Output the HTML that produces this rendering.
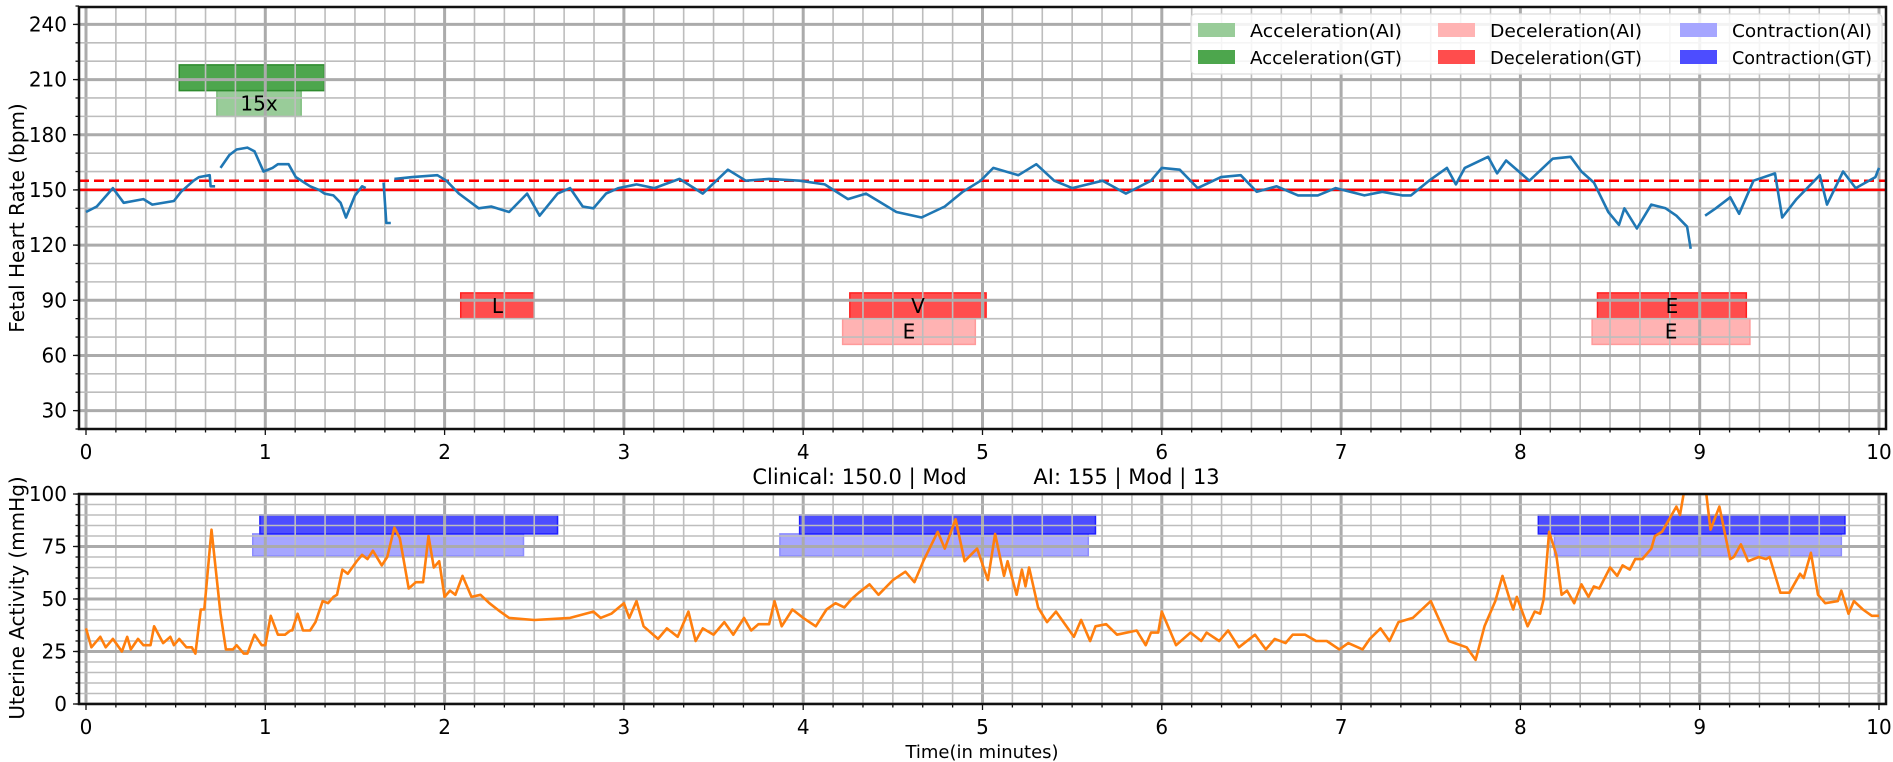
<!DOCTYPE html>
<html><head><meta charset="utf-8"><style>
html,body{margin:0;padding:0;background:#fff;}
svg{display:block;font-family:"DejaVu Sans","Liberation Sans",sans-serif;}
</style></head><body>
<svg id="chart" width="1893" height="762" viewBox="0 0 1893 762" xmlns="http://www.w3.org/2000/svg">
<defs>
<clipPath id="clipTop"><rect x="79" y="7" width="1807" height="422"/></clipPath>
<clipPath id="clipBot"><rect x="79" y="494" width="1807" height="210"/></clipPath>
</defs>
<text x="0" y="0" transform="translate(24,218) rotate(-90)" text-anchor="middle" font-size="20">Fetal Heart Rate (bpm)</text>
<text x="0" y="0" transform="translate(24,598) rotate(-90)" text-anchor="middle" font-size="20">Uterine Activity (mmHg)</text>
<text x="986" y="484" text-anchor="middle" font-size="21" xml:space="preserve">Clinical: 150.0 | Mod          AI: 155 | Mod | 13</text>
<text x="982" y="758" text-anchor="middle" font-size="18">Time(in minutes)</text>
</svg>
<script>
// ---- data ----
const fhrTimes = [0,.06,.15,.21,.32,.37,.49,.53,.6,.63,.69,.695,.72,.73,.75,.8,.84,.9,.94,.99,1.04,1.07,1.13,1.17,1.25,1.3,1.33,1.38,1.42,1.45,1.5,1.54,1.56,1.6,1.66,1.675,1.7,1.71,1.72,1.82,1.96,2.01,2.08,2.19,2.26,2.36,2.46,2.53,2.63,2.7,2.77,2.83,2.9,2.97,3.07,3.17,3.31,3.44,3.58,3.68,3.81,3.98,4.12,4.25,4.35,4.52,4.66,4.79,4.89,4.99,5.06,5.2,5.3,5.4,5.5,5.67,5.8,5.94,6.0,6.1,6.2,6.33,6.44,6.53,6.64,6.76,6.87,6.97,7.13,7.23,7.34,7.39,7.49,7.59,7.64,7.69,7.82,7.87,7.92,8.05,8.18,8.28,8.34,8.41,8.49,8.55,8.58,8.65,8.73,8.81,8.87,8.93,8.95,8.99,9.03,9.09,9.17,9.22,9.3,9.42,9.46,9.54,9.67,9.71,9.8,9.87,9.98,10.0];
const fhrValues = [138,141,151,143,145,142,144,149,155,157,158,152,152,null,162,169,172,173,171,160,162,164,164,157,152,150,148,147,143,135,147,152,151,null,154,132,132,null,156,157,158,155,148,140,141,138,148,136,148,151,141,140,148,151,153,151,156,148,161,155,156,155,153,145,148,138,135,141,149,155,162,158,164,155,151,155,148,155,162,161,151,157,158,149,152,147,147,151,147,149,147,147,155,162,153,162,168,159,166,155,167,168,160,154,138,131,140,129,142,140,136,130,118,null,136,140,146,137,155,159,135,145,158,142,160,151,157,162];
const uaTimes = [0,.03,.08,.11,.15,.2,.23,.25,.29,.32,.36,.38,.43,.47,.49,.52,.56,.59,.61,.64,.66,.7,.75,.78,.82,.84,.88,.9,.94,.98,1.0,1.03,1.07,1.11,1.14,1.15,1.18,1.21,1.25,1.28,1.32,1.35,1.38,1.4,1.43,1.46,1.51,1.54,1.57,1.6,1.65,1.68,1.72,1.75,1.8,1.84,1.88,1.91,1.94,1.97,2.0,2.03,2.06,2.1,2.15,2.2,2.25,2.31,2.36,2.5,2.7,2.83,2.87,2.93,3.0,3.03,3.07,3.11,3.19,3.24,3.3,3.36,3.4,3.44,3.5,3.56,3.61,3.67,3.71,3.75,3.81,3.84,3.88,3.94,4.0,4.07,4.13,4.18,4.23,4.27,4.31,4.37,4.42,4.5,4.57,4.62,4.67,4.75,4.79,4.85,4.9,4.97,5.03,5.07,5.12,5.14,5.19,5.22,5.24,5.26,5.31,5.36,5.41,5.51,5.55,5.6,5.63,5.69,5.75,5.86,5.91,5.94,5.98,6.0,6.08,6.16,6.22,6.25,6.32,6.37,6.43,6.52,6.58,6.63,6.69,6.73,6.8,6.86,6.92,6.99,7.04,7.12,7.16,7.22,7.27,7.32,7.4,7.5,7.6,7.7,7.75,7.8,7.86,7.9,7.94,7.96,7.98,8.01,8.04,8.08,8.11,8.13,8.16,8.2,8.23,8.26,8.3,8.34,8.38,8.41,8.44,8.5,8.54,8.57,8.61,8.64,8.68,8.73,8.75,8.79,8.83,8.87,8.89,8.91,8.92,9.03,9.06,9.11,9.17,9.19,9.23,9.27,9.33,9.37,9.39,9.45,9.5,9.56,9.58,9.62,9.66,9.7,9.77,9.79,9.83,9.86,9.91,9.96,10.0];
const uaValues = [36,27,32,27,31,25,32,26,31,28,28,37,29,32,28,31,27,27,24,45,45,83,43,26,26,28,24,24,33,28,28,42,33,33,35,35,43,35,35,39,49,48,51,52,64,62,68,71,69,73,66,70,84,79,55,58,58,80,65,68,51,54,52,61,51,52,48,44,41,40,41,44,41,43,48,41,49,37,31,36,32,44,30,36,33,39,33,41,35,38,38,49,37,45,41,37,45,48,46,50,53,57,52,59,63,58,68,82,74,88,68,74,59,81,61,68,52,64,56,65,46,39,44,32,40,30,37,38,33,35,28,34,34,44,28,34,30,34,30,35,27,33,26,31,29,33,33,30,30,26,29,26,31,36,30,39,41,49,30,27,21,37,49,61,50,45,51,44,37,44,43,50,82,71,52,54,48,57,51,56,55,65,61,66,64,69,69,74,80,82,88,94,90,100,105,105,83,94,69,70,76,68,70,69,70,53,53,62,60,72,52,48,49,54,43,49,45,42,42];
const baselineClinical = 150;
const baselineAI = 155;
// event bars: [start, end, low, high, label]
const accelGT = [[0.52,1.33,204,218,""]];
const accelAI = [[0.73,1.20,190,204,"15x"]];
const decelGT = [[2.09,2.50,80,94,"L"],[4.26,5.02,80,94,"V"],[8.43,9.26,80,94,"E"]];
const decelAI = [[4.22,4.96,66,80,"E"],[8.40,9.28,66,80,"E"]];
const contrGT = [[0.97,2.63,81,90],[3.98,5.63,81,90],[8.10,9.81,81,90]];
const contrAI = [[0.93,2.44,70.5,81],[3.87,5.59,70.5,81],[8.19,9.79,70.5,81]];
const xTicks = [0,1,2,3,4,5,6,7,8,9,10];
const fhrTicks = [30,60,90,120,150,180,210,240];
const uaTicks = [0,25,50,75,100];

// ---- scales ----
const L=79,R=1886;
const xS=t=>86+t*179.3;
const yT=v=>429-(v-20)*1.839;
const yB=v=>704-v*2.1;
const NS="http://www.w3.org/2000/svg";
const svg=document.getElementById('chart');
function el(tag,attrs,parent){const e=document.createElementNS(NS,tag);for(const k in attrs)e.setAttribute(k,attrs[k]);(parent||svg).appendChild(e);return e;}

const gTop=el('g',{});


const gBot=el('g',{});



function drawBars(g,arr,yS,fill,stroke,name){
  arr.forEach(b=>{
    const r=el('rect',{x:xS(b[0]),y:yS(b[3]),width:xS(b[1])-xS(b[0]),height:yS(b[2])-yS(b[3]),fill:fill,stroke:stroke,'stroke-width':1.5},g);
    
    
  });
}
function drawBarLabels(g,arr,yS){
  arr.forEach(b=>{ if(!b[4])return;
    const t=el('text',{x:(xS(b[0])+xS(b[1]))/2,y:(yS(b[2])+yS(b[3]))/2+7,'text-anchor':'middle','font-size':20},g);
    t.textContent=b[4];
    
    
  });
}
function drawGrid(g,top,bot,yS,minorStep,majorStep,vmin,vmax){
  for(let i=0;i<=60;i++){const t=i/6;const maj=i%6===0;
    el('line',{x1:xS(t),x2:xS(t),y1:top,y2:bot,stroke:maj?'#ababab':'#bdbdbd','stroke-width':maj?3:1.6},g);}
  for(let v=vmin;v<=vmax+0.01;v+=minorStep){const maj=((v)%majorStep)===0;
    el('line',{x1:L,x2:R,y1:yS(v),y2:yS(v),stroke:maj?'#ababab':'#bdbdbd','stroke-width':maj?3:1.6},g);}
}
function drawLine(g,T,V,yS,color,name){
  let d='',pen=false;
  for(let i=0;i<T.length;i++){const v=V[i];
    if(v===null){pen=false;continue;}
    d+=(pen?'L':'M')+xS(T[i]).toFixed(1)+','+yS(v).toFixed(1);pen=true;}
  const p=el('path',{d:d,fill:'none',stroke:color,'stroke-width':2.6,'stroke-linejoin':'round'},g);
  
  
}
function drawAxes(top,bot,yS,ticks,minorStep,vmin,vmax,name){
  const f=el('rect',{x:L,y:top,width:R-L,height:bot-top,fill:'none',stroke:'#111','stroke-width':2.5});
  
  
  for(let i=0;i<=60;i++){const t=i/6;const maj=i%6===0;
    el('line',{x1:xS(t),x2:xS(t),y1:bot,y2:bot+(maj?6:3.5),stroke:'#111','stroke-width':1.3});}
  xTicks.forEach(t=>{const tx=el('text',{x:xS(t),y:bot+30,'text-anchor':'middle','font-size':20});tx.textContent=t;
    
    });
  for(let v=vmin;v<=vmax+0.01;v+=minorStep){el('line',{x1:L-3.5,x2:L,y1:yS(v),y2:yS(v),stroke:'#111','stroke-width':1.3});}
  ticks.forEach(v=>{el('line',{x1:L-6,x2:L,y1:yS(v),y2:yS(v),stroke:'#111','stroke-width':1.3});
    const tx=el('text',{x:L-12,y:yS(v)+7,'text-anchor':'end','font-size':20});tx.textContent=v;
    
    });
}

// top panel
const cTop=el('g',{'clip-path':'url(#clipTop)'},gTop);
drawBars(cTop,accelAI,yT,'#99cc99','#7fbf7f','acceleration-ai-bar');
drawBars(cTop,accelGT,yT,'#4da64d','#2e8b2e','acceleration-gt-bar');
drawBars(cTop,decelAI,yT,'#ffb3b3','#ff9a9a','deceleration-ai-bar');
drawBars(cTop,decelGT,yT,'#ff4d4d','#ff2020','deceleration-gt-bar');
drawGrid(cTop,7,429,yT,10,30,20,250);
drawBarLabels(cTop,accelAI,yT);
drawBarLabels(cTop,decelGT,yT);
drawBarLabels(cTop,decelAI,yT);
const bl1=el('line',{x1:L,x2:R,y1:yT(baselineClinical),y2:yT(baselineClinical),stroke:'#ff0000','stroke-width':2.5},cTop);


const bl2=el('line',{x1:L,x2:R,y1:yT(baselineAI),y2:yT(baselineAI),stroke:'#ff0000','stroke-width':2.5,'stroke-dasharray':'10,5'},cTop);


drawLine(cTop,fhrTimes,fhrValues,yT,'#1f77b4','fhr-line');
drawAxes(7,429,yT,fhrTicks,10,20,250,'fhr');

// bottom panel
const cBot=el('g',{'clip-path':'url(#clipBot)'},gBot);
drawBars(cBot,contrAI,yB,'#a6a6ff','#8c8cff','contraction-ai-bar');
drawBars(cBot,contrGT,yB,'#4d4dff','#2020ff','contraction-gt-bar');
drawGrid(cBot,494,704,yB,5,25,0,100);
drawLine(cBot,uaTimes,uaValues,yB,'#ff7f0e','ua-line');
drawAxes(494,704,yB,uaTicks,5,0,100,'ua');

// legend
const lg=el('g',{});


el('rect',{x:1191,y:14,width:691,height:60,rx:4,fill:'#fff','fill-opacity':0.85,stroke:'#ddd','stroke-width':1.2},lg);
const legItems=[['Acceleration(AI)','#99cc99',1198,30],['Acceleration(GT)','#4da64d',1198,57],['Deceleration(AI)','#ffb3b3',1438,30],['Deceleration(GT)','#ff4d4d',1438,57],['Contraction(AI)','#a6a6ff',1680,30],['Contraction(GT)','#4d4dff',1680,57]];
legItems.forEach(it=>{
  const s=el('rect',{x:it[2],y:it[3]-7,width:37,height:14,fill:it[1]},lg);
  
  
  const t=el('text',{x:it[2]+52,y:it[3]+7,'font-size':18,'textLength':it[0].length>15?152:140,'lengthAdjust':'spacingAndGlyphs'},lg);
  t.textContent=it[0];
  
  
});
</script>
</body></html>
